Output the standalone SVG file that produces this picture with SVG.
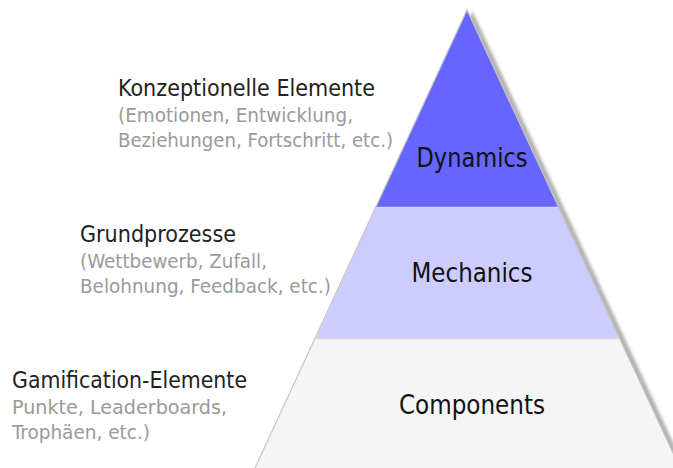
<svg xmlns="http://www.w3.org/2000/svg" width="673" height="468" viewBox="0 0 673 468">
  <defs>
    <filter id="shadow" x="-10%" y="-10%" width="120%" height="120%">
      <feGaussianBlur stdDeviation="1.8"/>
    </filter>
    <style>
      .head { font-family: "DejaVu Sans Condensed", "DejaVu Sans", Verdana, sans-serif; font-size: 23px; fill: #222222; }
      .sub { font-family: "DejaVu Sans Condensed", "DejaVu Sans", Verdana, sans-serif; font-size: 20px; fill: #9a9a9a; }
      .tier { font-family: "DejaVu Sans Condensed", "DejaVu Sans", Verdana, sans-serif; font-size: 27px; fill: #111111; text-anchor: middle; }
      .edge { fill: none; stroke: #c4c4c4; stroke-width: 1.2; }
      .sep { stroke: #d8d8d8; stroke-width: 1.5; }
    </style>
  </defs>
  <rect width="673" height="468" fill="#ffffff"/>
  <g id="pyramid-shadow">
    <polygon points="470,10 684,470 262,470" fill="#9a9a9a" opacity="0.75" filter="url(#shadow)" transform="translate(2.5,1)"/>
  </g>
  <g id="components">
    <polygon points="316,338 619,338 680,468 255,468" fill="#f5f5f5"/>
    <text class="tier" x="472" y="414" textLength="146" lengthAdjust="spacingAndGlyphs">Components</text>
  </g>
  <g id="mechanics">
    <polygon points="376,207 558,207 619,338 316,338" fill="#ccccff"/>
    <text class="tier" x="472" y="282" textLength="121" lengthAdjust="spacingAndGlyphs">Mechanics</text>
  </g>
  <g id="dynamics">
    <polygon points="467,10 558,207 376,207" fill="#6666ff"/>
    <text class="tier" x="472" y="167" textLength="111" lengthAdjust="spacingAndGlyphs">Dynamics</text>
  </g>
  <g id="connectors">
    <line class="sep" x1="376" y1="207.5" x2="558" y2="207.5"/>
    <line class="sep" x1="316" y1="338.5" x2="619" y2="338.5"/>
    <polyline class="edge" points="255,468 467,10 680,468"/>
  </g>
  <g id="label-konzeptionelle">
    <text class="head" x="118" y="96" textLength="257" lengthAdjust="spacingAndGlyphs">Konzeptionelle Elemente</text>
    <text class="sub" x="118" y="122" textLength="235" lengthAdjust="spacingAndGlyphs">(Emotionen, Entwicklung,</text>
    <text class="sub" x="118" y="147" textLength="275" lengthAdjust="spacingAndGlyphs">Beziehungen, Fortschritt, etc.)</text>
  </g>
  <g id="label-grundprozesse">
    <text class="head" x="80" y="242" textLength="156" lengthAdjust="spacingAndGlyphs">Grundprozesse</text>
    <text class="sub" x="80" y="268" textLength="187" lengthAdjust="spacingAndGlyphs">(Wettbewerb, Zufall,</text>
    <text class="sub" x="80" y="293" textLength="251" lengthAdjust="spacingAndGlyphs">Belohnung, Feedback, etc.)</text>
  </g>
  <g id="label-gamification">
    <text class="head" x="12" y="388" textLength="235" lengthAdjust="spacingAndGlyphs">Gamification-Elemente</text>
    <text class="sub" x="12" y="414" textLength="215" lengthAdjust="spacingAndGlyphs">Punkte, Leaderboards,</text>
    <text class="sub" x="12" y="439" textLength="138" lengthAdjust="spacingAndGlyphs">Trophäen, etc.)</text>
  </g>
</svg>
